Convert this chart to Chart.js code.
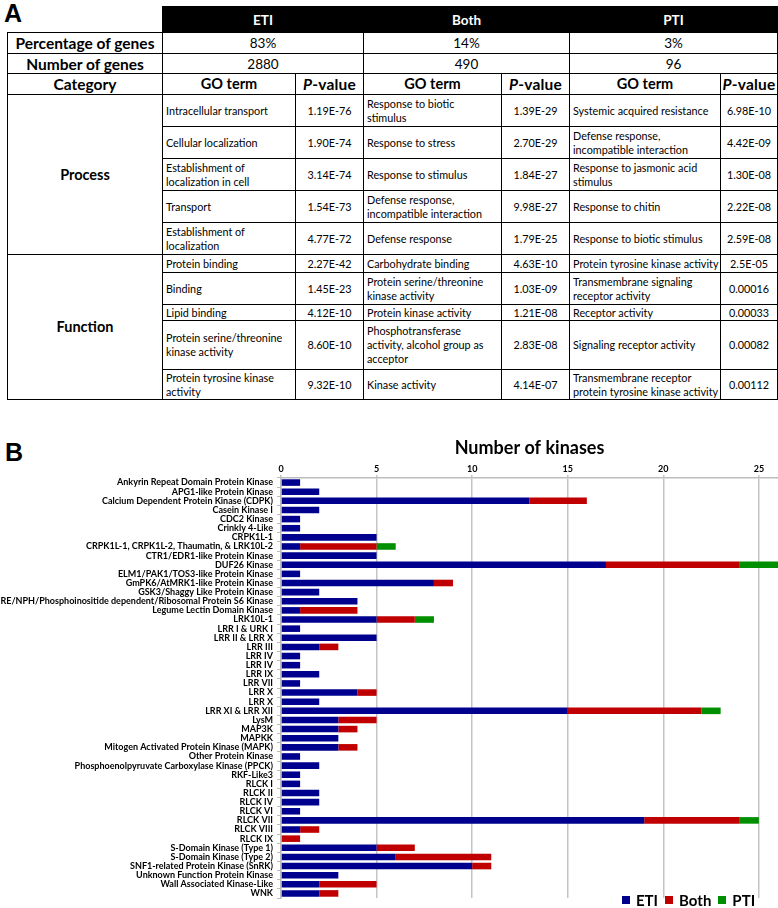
<!DOCTYPE html>
<html>
<head>
<meta charset="utf-8">
<script src="https://cdn.jsdelivr.net/npm/chart.js@4.4.1/dist/chart.umd.min.js"></script>
<style>
  body { margin: 0; background: #fff; font-family: Lato, sans-serif; }
  #page { position: relative; width: 778px; height: 908px; overflow: hidden; }
  .panel { position: absolute; font-family: "Liberation Sans", Arial, sans-serif; font-weight: bold; font-size: 25px; }
  table { position: absolute; left: 7px; top: 6px; width: 770px; border-collapse: collapse; table-layout: fixed; }
  td { border: 1px solid #000; padding: 0 3px; font-size: 10.8px; line-height: 14px; white-space: nowrap; vertical-align: middle; color: #000; }
  td.c { text-align: center; }
  td.h { font-weight: bold; font-size: 14.5px; text-align: center; }
  td.h1 { font-weight: bold; font-size: 15.5px; text-align: center; }
  td.p { font-weight: bold; font-size: 15.5px; text-align: center; letter-spacing: 0.2px; padding: 0 1px; }
  td.blk { background: #000; color: #fff; font-weight: bold; font-size: 13.5px; text-align: center; border: 1px solid #000; }
  td.blank { border: none; border-bottom: 1px solid #000; }
  td.v { font-size: 13.5px; text-align: center; }
  td.cat { font-weight: bold; font-size: 14.5px; text-align: center; }
  #chartBox { position: absolute; left: 0; top: 430px; width: 778px; height: 478px; }
  #legend { position: absolute; left: 622px; top: 891px; display: flex; align-items: center; font-family: Lato, sans-serif; font-weight: bold; font-size: 15px; }
  #legend span.sw { display: inline-block; width: 8px; height: 8px; margin-right: 6px; }
  #legend span.lb { margin-right: 7px; }
</style>
</head>
<body>
<div id="page">
  <div class="panel" style="left:4px; top:-1px;">A</div>
  <table>
    <colgroup>
      <col style="width:155px"><col style="width:133px"><col style="width:68px">
      <col style="width:138px"><col style="width:68px"><col style="width:151px"><col style="width:57px">
    </colgroup>
    <tr style="height:26px"><td class="blank"></td><td class="blk" colspan="2">ETI</td><td class="blk" colspan="2">Both</td><td class="blk" colspan="2">PTI</td></tr>
    <tr style="height:21px"><td class="h1">Percentage of genes</td><td class="v" colspan="2">83%</td><td class="v" colspan="2">14%</td><td class="v" colspan="2">3%</td></tr>
    <tr style="height:20px"><td class="h1">Number of genes</td><td class="v" colspan="2">2880</td><td class="v" colspan="2">490</td><td class="v" colspan="2">96</td></tr>
    <tr style="height:21px"><td class="h1">Category</td><td class="h">GO term</td><td class="p"><i>P</i>-value</td><td class="h">GO term</td><td class="p"><i>P</i>-value</td><td class="h">GO term</td><td class="p"><i>P</i>-value</td></tr>
    <tr style="height:32px"><td class="cat" rowspan="5">Process</td><td>Intracellular transport</td><td class="c">1.19E-76</td><td>Response to biotic<br>stimulus</td><td class="c">1.39E-29</td><td>Systemic acquired resistance</td><td class="c">6.98E-10</td></tr>
    <tr style="height:32px"><td>Cellular localization</td><td class="c">1.90E-74</td><td>Response to stress</td><td class="c">2.70E-29</td><td>Defense response,<br>incompatible interaction</td><td class="c">4.42E-09</td></tr>
    <tr style="height:32px"><td>Establishment of<br>localization in cell</td><td class="c">3.14E-74</td><td>Response to stimulus</td><td class="c">1.84E-27</td><td>Response to jasmonic acid<br>stimulus</td><td class="c">1.30E-08</td></tr>
    <tr style="height:32px"><td>Transport</td><td class="c">1.54E-73</td><td>Defense response,<br>incompatible interaction</td><td class="c">9.98E-27</td><td>Response to chitin</td><td class="c">2.22E-08</td></tr>
    <tr style="height:32px"><td>Establishment of<br>localization</td><td class="c">4.77E-72</td><td>Defense response</td><td class="c">1.79E-25</td><td>Response to biotic stimulus</td><td class="c">2.59E-08</td></tr>
    <tr style="height:18px"><td class="cat" rowspan="5">Function</td><td>Protein binding</td><td class="c">2.27E-42</td><td>Carbohydrate binding</td><td class="c">4.63E-10</td><td>Protein tyrosine kinase activity</td><td class="c">2.5E-05</td></tr>
    <tr style="height:32px"><td>Binding</td><td class="c">1.45E-23</td><td>Protein serine/threonine<br>kinase activity</td><td class="c">1.03E-09</td><td>Transmembrane signaling<br>receptor activity</td><td class="c">0.00016</td></tr>
    <tr style="height:16px"><td>Lipid binding</td><td class="c">4.12E-10</td><td>Protein kinase activity</td><td class="c">1.21E-08</td><td>Receptor activity</td><td class="c">0.00033</td></tr>
    <tr style="height:49px"><td>Protein serine/threonine<br>kinase activity</td><td class="c">8.60E-10</td><td>Phosphotransferase<br>activity, alcohol group as<br>acceptor</td><td class="c">2.83E-08</td><td>Signaling receptor activity</td><td class="c">0.00082</td></tr>
    <tr style="height:30px"><td>Protein tyrosine kinase<br>activity</td><td class="c">9.32E-10</td><td>Kinase activity</td><td class="c">4.14E-07</td><td>Transmembrane receptor<br>protein tyrosine kinase activity</td><td class="c">0.00112</td></tr>
  </table>

  <div class="panel" style="left:5px; top:438px;">B</div>
  <div id="chartBox"><canvas id="myChart" width="778" height="478"></canvas></div>
  <div id="legend"></div>
</div>

<script>
const categories = [
  'Ankyrin Repeat Domain Protein Kinase', 'APG1-like Protein Kinase', 'Calcium Dependent Protein Kinase (CDPK)',
  'Casein Kinase I', 'CDC2 Kinase', 'Crinkly 4-Like', 'CRPK1L-1', 'CRPK1L-1, CRPK1L-2, Thaumatin, & LRK10L-2',
  'CTR1/EDR1-like Protein Kinase', 'DUF26 Kinase', 'ELM1/PAK1/TOS3-like Protein Kinase',
  'GmPK6/AtMRK1-like Protein Kinase', 'GSK3/Shaggy Like Protein Kinase',
  'IRE/NPH/Phosphoinositide dependent/Ribosomal Protein S6 Kinase', 'Legume Lectin Domain Kinase',
  'LRK10L-1', 'LRR I & URK I', 'LRR II & LRR X', 'LRR III', 'LRR IV', 'LRR IV', 'LRR IX', 'LRR VII',
  'LRR X', 'LRR X', 'LRR XI & LRR XII', 'LysM', 'MAP3K', 'MAPKK', 'Mitogen Activated Protein Kinase (MAPK)',
  'Other Protein Kinase', 'Phosphoenolpyruvate Carboxylase Kinase (PPCK)', 'RKF-Like3', 'RLCK I', 'RLCK II',
  'RLCK IV', 'RLCK VI', 'RLCK VII', 'RLCK VIII', 'RLCK IX', 'S-Domain Kinase (Type 1)', 'S-Domain Kinase (Type 2)',
  'SNF1-related Protein Kinase (SnRK)', 'Unknown Function Protein Kinase', 'Wall Associated Kinase-Like', 'WNK'
];
const eti  = [1, 2, 13, 2, 1, 1, 5, 1, 5, 17, 1, 8, 2, 4, 1, 5, 1, 5, 2, 1, 1, 2, 1, 4, 2, 15, 3, 3, 3, 3, 1, 2, 1, 1, 2, 2, 1, 19, 1, 0, 5, 6, 10, 3, 2, 2];
const both = [0, 0, 3, 0, 0, 0, 0, 4, 0, 7, 0, 1, 0, 0, 3, 2, 0, 0, 1, 0, 0, 0, 0, 1, 0, 7, 2, 1, 0, 1, 0, 0, 0, 0, 0, 0, 0, 5, 1, 1, 2, 5, 1, 0, 3, 1];
const pti  = [0, 0, 0, 0, 0, 0, 0, 1, 0, 2, 0, 0, 0, 0, 0, 1, 0, 0, 0, 0, 0, 0, 0, 0, 0, 1, 0, 0, 0, 0, 0, 0, 0, 0, 0, 0, 0, 1, 0, 0, 0, 0, 0, 0, 0, 0];
const xTicks = [0, 5, 10, 15, 20, 25];
const seriesNames = ['ETI', 'Both', 'PTI'];
const seriesColors = ['#00008f', '#c00000', '#008f00'];

const ctx = document.getElementById('myChart');

const chart = new Chart(ctx, {
  type: 'bar',
  data: {
    labels: categories,
    datasets: [eti, both, pti].map((d, i) => ({
      label: seriesNames[i],
      data: d,
      backgroundColor: seriesColors[i],
      borderWidth: 0,
      barPercentage: 0.72,
      categoryPercentage: 1
    }))
  },
  options: {
    indexAxis: 'y',
    responsive: false,
    animation: false,
    devicePixelRatio: 1,
    layout: { padding: { left: 0, right: 0, top: 0, bottom: 10 } },
    plugins: { legend: { display: false }, tooltip: { enabled: false } },
    scales: {
      x: {
        position: 'top',
        stacked: true,
        min: 0,
        max: 26,
        afterBuildTicks: s => { s.ticks = xTicks.map(v => ({ value: v })); },
        afterFit: s => { s.height = 48; },
        ticks: { color: '#000', font: { family: 'Lato', weight: 'bold', size: 9 }, padding: 1 },
        grid: { color: '#c4c4c4', lineWidth: 1.5, tickLength: 3 },
        border: { color: '#bdbdbd', width: 1.5 },
        title: {
          display: true,
          text: 'Number of kinases',
          color: '#000',
          font: { family: 'Lato', weight: 'bold', size: 18 },
          padding: { top: 7, bottom: 0 }
        }
      },
      y: {
        stacked: true,
        afterFit: s => { s.width = 281; },
        ticks: { color: '#000', font: { family: 'Lato', weight: 'bold', size: 9 }, padding: 4, autoSkip: false },
        grid: { drawOnChartArea: false, offset: true, tickLength: 4, color: '#bdbdbd' },
        border: { color: '#bdbdbd', width: 1.5 }
      }
    }
  }
});

// legend built from the dataset names/colours
const lg = document.getElementById('legend');
seriesNames.forEach((n, i) => {
  lg.insertAdjacentHTML('beforeend', '<span class="sw" style="background:' + seriesColors[i] + '"></span><span class="lb">' + n + '</span>');
});
</script>
</body>
</html>
